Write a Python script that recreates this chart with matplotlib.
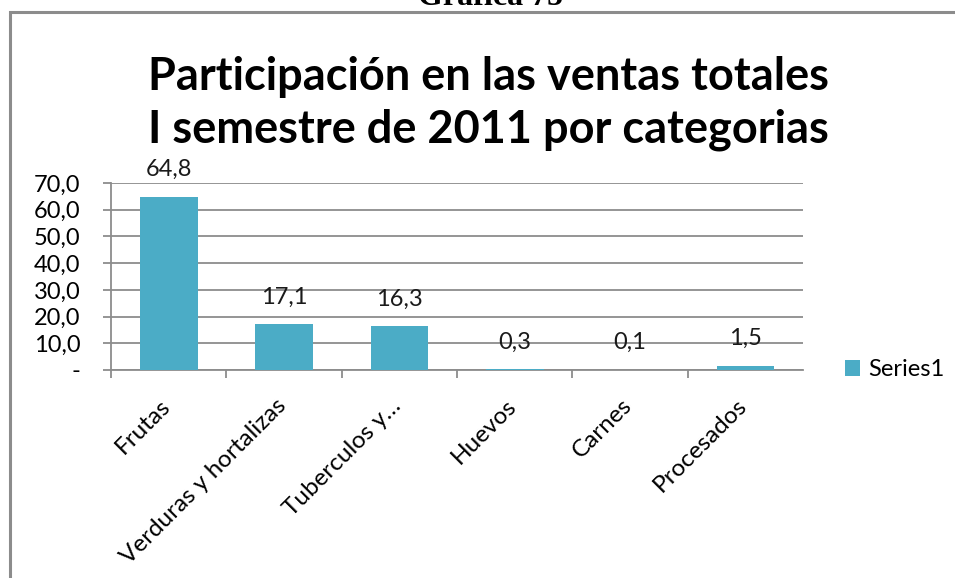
import matplotlib
matplotlib.use("Agg")
import matplotlib.pyplot as plt
import matplotlib.transforms as mtransforms
import numpy as np
from matplotlib.patches import Rectangle

categorias = ["Frutas", "Verduras y hortalizas", "Tuberculos y…",
              "Huevos", "Carnes", "Procesados"]
participacion = [64.8, 17.1, 16.3, 0.3, 0.1, 1.5]
ticks_y = [0, 10, 20, 30, 40, 50, 60, 70]
etiquetas_y = ["-", "10,0", "20,0", "30,0", "40,0", "50,0", "60,0", "70,0"]

W, H = 955, 578
fig = plt.figure(figsize=(W / 100, H / 100), dpi=100)
plt.rcParams["font.family"] = ["Lato", "DejaVu Sans"]

# page heading, only its lower part fits above the frame
fig.text(491 / W, 1 - 5 / H, "Grafica 75", ha="center", va="baseline",
         family="Liberation Serif", weight="bold", fontsize=23)

# chart frame
fig.patches.append(Rectangle((9.5 / W, -0.1), 1.2, 1.1 - 12 / H,
                             transform=fig.transFigure, fill=False,
                             edgecolor="#8c8c8c", linewidth=2.2))

fig.text(488 / W, 1 - 77 / H, "Participación en las ventas totales",
         ha="center", va="center", weight="bold", fontsize=32.5)
fig.text(488 / W, 1 - 130 / H, "I semestre de 2011 por categorias",
         ha="center", va="center", weight="bold", fontsize=32.5)

x0, x1, y0, y1 = 111, 803, 183, 370
ax = fig.add_axes([x0 / W, 1 - y1 / H, (x1 - x0) / W, (y1 - y0) / H])

xc = np.arange(len(categorias))
bars = ax.bar(xc, participacion, width=0.5, color="#4bacc6", zorder=3,
              label="Series1")
for b, v in zip(bars, participacion):
    ax.annotate(("%.1f" % v).replace(".", ","),
                (b.get_x() + b.get_width() / 2, v), xytext=(0, 12),
                textcoords="offset points", ha="center", va="bottom",
                fontsize=17, color="#1a1a1a")

ax.set_xlim(-0.5, len(categorias) - 0.5)
ax.set_ylim(0, 70)
ax.set_yticks(ticks_y)
ax.set_yticklabels(etiquetas_y, fontsize=17)
ax.yaxis.grid(True, color="#8c8c8c", linewidth=1.3, zorder=0)
ax.tick_params(axis="y", length=6, width=1.3, color="#8c8c8c", pad=16)

ax.set_xticks(xc - 0.5, minor=True)
ax.set_xticks(xc)
ax.set_xticklabels(categorias, rotation=45, ha="right", va="top",
                   rotation_mode="anchor", fontsize=17.5)
ax.tick_params(axis="x", which="major", length=0, pad=18)
ax.tick_params(axis="x", which="minor", length=6, width=1.3, color="#8c8c8c")
shift = mtransforms.ScaledTranslation(-9 / 100, 0, fig.dpi_scale_trans)
for lbl in ax.get_xticklabels():
    lbl.set_transform(lbl.get_transform() + shift)

for s in ["top", "right"]:
    ax.spines[s].set_visible(False)
for s in ["left", "bottom"]:
    ax.spines[s].set_color("#8c8c8c")
    ax.spines[s].set_linewidth(1.3)

ax.legend(loc="center left", bbox_to_anchor=(1.06, 0.0), frameon=False,
          fontsize=17, handlelength=0.65, handleheight=0.65,
          handletextpad=0.35, borderpad=0, borderaxespad=0)

fig.savefig("out.png", dpi=100)
